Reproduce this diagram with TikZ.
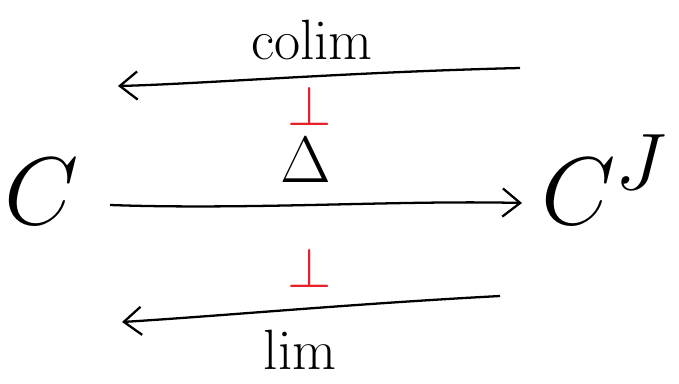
\documentclass[tikz,border=0pt]{standalone}
\usepackage{amsmath}
\usepackage{graphicx}
\usetikzlibrary{arrows.meta, positioning}
\definecolor{adjred}{HTML}{E8202A}
\newcommand{\bigsym}[2]{\scalebox{#1}{\Huge #2}}

\begin{document}
\begin{tikzpicture}[
    x=0.02cm, y=-0.02cm,
    obj/.style={inner sep=0pt},
    lbl/.style={inner sep=0pt},
    adj/.style={text=adjred, inner sep=0pt},
    arrow/.style={-{Straight Barb[length=10pt, width=16pt]}, line width=1.3pt, black}
]
    \useasboundingbox (0,0) rectangle (679,383);

    % Objects
    \node[obj] (cat) at (42,192) {\bigsym{2.2}{$C$}};
    \node[obj] (diag) at (605,180) {\bigsym{2.2}{$C^J$}};

    % Arrow ends
    \coordinate (colimS) at (520,68);
    \coordinate (colimT) at (118,86);
    \coordinate (deltaS) at (110,205);
    \coordinate (deltaT) at (522,203);
    \coordinate (limS) at (500,296);
    \coordinate (limT) at (122,322);

    % Connectors
    \draw[arrow] (colimS) .. controls (350,72) and (200,84) .. (colimT);
    \draw[arrow] (deltaS) .. controls (250,210) and (400,200) .. (deltaT);
    \draw[arrow] (limS) .. controls (350,304) and (220,316) .. (limT);

    % Labels
    \node[lbl] (colim) at (312,40) {\bigsym{1.3}{$\mathrm{colim}$}};
    \node[lbl] (delta) at (306,160) {\bigsym{1.5}{$\Delta$}};
    \node[lbl] (lim) at (300,350) {\bigsym{1.3}{$\mathrm{lim}$}};

    % Adjunctions
    \node[adj] (adjtop) at (310,106) {\bigsym{1.3}{$\perp$}};
    \node[adj] (adjbot) at (310,268) {\bigsym{1.3}{$\perp$}};
\end{tikzpicture}
\end{document}
